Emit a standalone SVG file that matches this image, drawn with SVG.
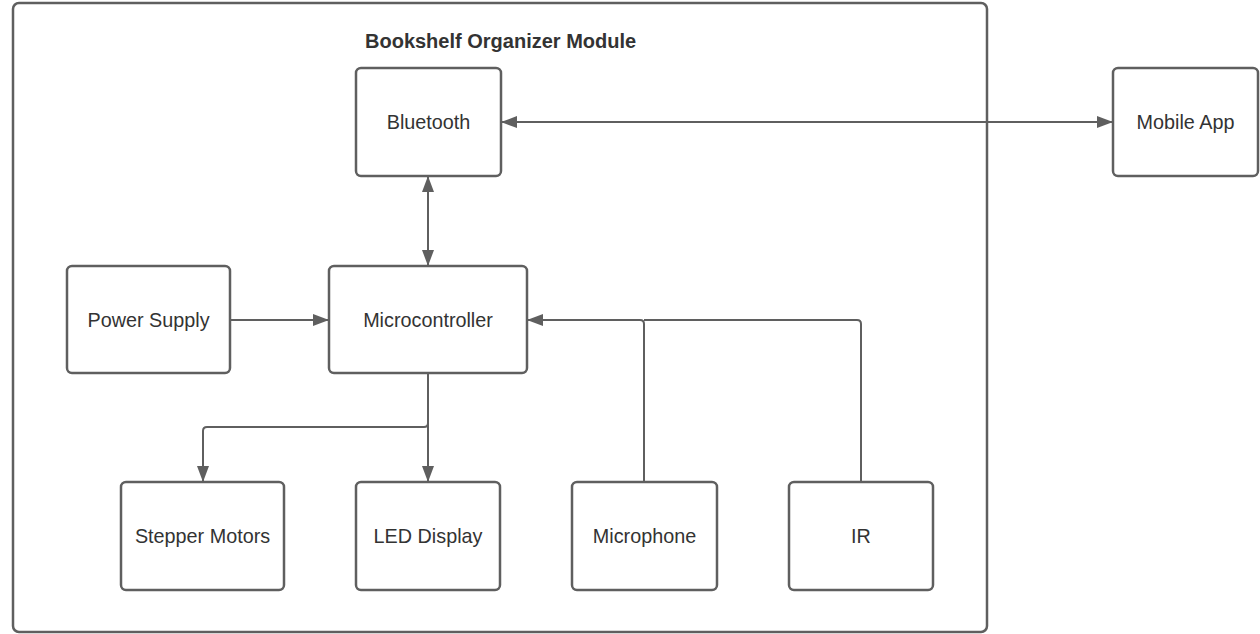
<svg xmlns="http://www.w3.org/2000/svg" width="1260" height="634" viewBox="0 0 1260 634">
<defs>
<marker id="arr" viewBox="0 0 16 12" refX="16" refY="6" markerWidth="16" markerHeight="12" markerUnits="userSpaceOnUse" orient="auto-start-reverse">
<path d="M0,0 L16,6 L0,12 Z" fill="#5f5f5f"/>
</marker>
</defs>
<style>
.box{fill:#fff;stroke:#5f5f5f;stroke-width:2.5}
.lbl{font-family:"Liberation Sans",Arial,sans-serif;font-size:19.8px;fill:#333;text-anchor:middle;dominant-baseline:central}
.title{font-family:"Liberation Sans",Arial,sans-serif;font-size:20px;font-weight:bold;fill:#333}
.conn{fill:none;stroke:#5f5f5f;stroke-width:2}
</style>
<rect width="1260" height="634" fill="#fff"/>
<g id="container">
<rect x="13" y="3" width="974" height="629" rx="6" fill="none" stroke="#5f5f5f" stroke-width="2.5"/>
<text class="title" x="365" y="48">Bookshelf Organizer Module</text>
</g>
<g id="connectors">
<path class="conn" d="M501,122 H1113" marker-start="url(#arr)" marker-end="url(#arr)"/>
<path class="conn" d="M428,176 V266" marker-start="url(#arr)" marker-end="url(#arr)"/>
<path class="conn" d="M230,320 H329" marker-end="url(#arr)"/>
<path class="conn" d="M428,373 V482" marker-end="url(#arr)"/>
<path class="conn" d="M428,423 Q428,427 424,427 H207 Q203,427 203,431 V482" marker-end="url(#arr)"/>
<path class="conn" d="M644,482 V324 Q644,320 640,320 H527" marker-end="url(#arr)"/>
<path class="conn" d="M861,482 V324 Q861,320 857,320 H644"/>
</g>
<g id="bluetooth"><rect class="box" x="356" y="68" width="145" height="108" rx="5"/><text class="lbl" x="428.5" y="122">Bluetooth</text></g>
<g id="mobile-app"><rect class="box" x="1113" y="68" width="145" height="108" rx="5"/><text class="lbl" x="1185.5" y="122">Mobile App</text></g>
<g id="power-supply"><rect class="box" x="67" y="266" width="163" height="107" rx="5"/><text class="lbl" x="148.5" y="320">Power Supply</text></g>
<g id="microcontroller"><rect class="box" x="329" y="266" width="198" height="107" rx="5"/><text class="lbl" x="428" y="320">Microcontroller</text></g>
<g id="stepper-motors"><rect class="box" x="121" y="482" width="163" height="108" rx="5"/><text class="lbl" x="202.5" y="536">Stepper Motors</text></g>
<g id="led-display"><rect class="box" x="356" y="482" width="144" height="108" rx="5"/><text class="lbl" x="428" y="536">LED Display</text></g>
<g id="microphone"><rect class="box" x="572" y="482" width="145" height="108" rx="5"/><text class="lbl" x="644.5" y="536">Microphone</text></g>
<g id="ir"><rect class="box" x="789" y="482" width="144" height="108" rx="5"/><text class="lbl" x="861" y="536">IR</text></g>
</svg>
